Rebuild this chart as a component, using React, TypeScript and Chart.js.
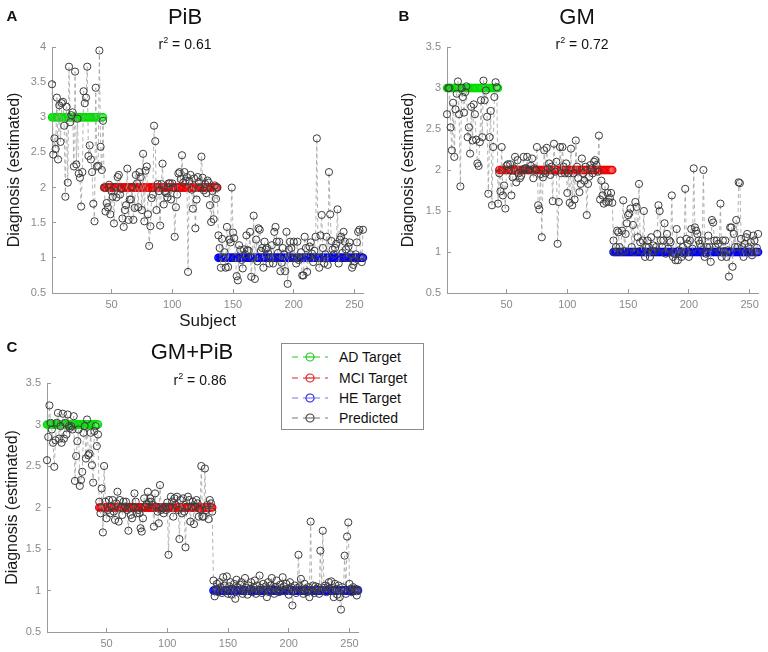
import React, { useEffect, useRef } from "react";
import { Chart, registerables } from "chart.js";

Chart.register(...registerables);

// ---------- data ----------
const seriesNames = ["AD Target", "MCI Target", "HE Target", "Predicted"];
const targetLevels = [3, 2, 1];
const xTickValues = [50, 100, 150, 200, 250];
const yTicksA = [0.5, 1, 1.5, 2, 2.5, 3, 3.5, 4];
const yTicksBC = [0.5, 1, 1.5, 2, 2.5, 3, 3.5];

// Panel A: PiB
const pibAD = [3.47, 2.47, 2.7, 2.55, 3.28, 2.4, 3.17, 2.65, 3.2, 3.22, 2.88, 1.87, 3.15, 2.07, 3.72, 2.93, 3.03, 3.07, 2.3, 3.65, 2.33, 2.98, 2.2, 2.14, 1.73, 2.22, 3.37, 3.2, 3.28, 3.72, 2.45, 2.6, 2.4, 2.22, 1.77, 1.52, 3.42, 2.3, 2.31, 3.95, 2.58, 2.25, 2.95];
const pibMCI = [2.0, 1.66, 1.78, 1.72, 2.04, 1.62, 1.95, 1.87, 1.49, 2.01, 1.86, 2.15, 2.18, 1.9, 1.98, 1.56, 1.44, 1.68, 1.75, 2.27, 1.54, 1.83, 1.83, 2.01, 1.54, 1.71, 2.18, 2.06, 1.72, 2.22, 2.15, 1.68, 2.48, 1.52, 2.24, 2.3, 1.62, 1.17, 1.45, 1.85, 1.9, 2.88, 2.66, 1.68, 2.05, 1.95, 1.46, 2.05, 2.34, 1.76, 1.94, 1.92, 1.86, 2.06, 2.06, 1.83, 2.06, 2.0, 1.3, 1.72, 1.9, 2.2, 2.22, 2.12, 2.46, 2.07, 2.22, 2.1, 2.15, 0.8, 2.09, 2.18, 1.97, 1.7, 2.13, 1.42, 1.83, 2.15, 2.08, 2.0, 2.44, 2.14, 1.96, 2.05, 1.92, 2.1, 2.07, 1.75, 1.51, 1.95, 1.55, 2.03, 1.84, 2.0];
const pibHE = [1.32, 1.14, 0.86, 1.27, 1.0, 1.08, 0.86, 1.44, 0.87, 1.26, 1.22, 2.0, 1.36, 1.28, 1.0, 0.74, 0.68, 1.18, 1.11, 0.97, 0.85, 1.12, 1.05, 1.32, 1.11, 1.1, 1.37, 0.73, 1.0, 1.6, 0.7, 1.26, 0.95, 1.42, 1.4, 1.1, 1.14, 0.86, 1.23, 1.12, 1.14, 1.06, 0.92, 1.0, 1.18, 0.92, 1.37, 1.44, 1.23, 1.07, 1.23, 0.81, 0.93, 1.14, 1.05, 0.81, 1.37, 0.63, 1.12, 1.23, 1.14, 1.0, 1.23, 1.0, 0.92, 1.23, 0.97, 1.0, 1.08, 0.75, 0.75, 1.3, 1.14, 0.8, 1.02, 1.16, 1.22, 1.06, 0.94, 1.1, 1.3, 2.7, 1.0, 0.86, 1.32, 1.61, 1.14, 0.92, 1.05, 1.3, 0.9, 2.22, 1.62, 1.24, 1.12, 1.05, 1.14, 1.2, 1.69, 0.92, 1.26, 1.3, 1.07, 1.37, 1.23, 1.12, 1.0, 1.16, 1.22, 1.05, 0.86, 0.9, 0.95, 1.05, 1.22, 1.37, 1.4, 1.02, 0.94, 1.4];

// Panel B: GM
const gmAD = [2.68, 3.0, 3.0, 2.52, 2.24, 2.82, 2.16, 2.74, 2.93, 3.08, 2.68, 1.8, 3.0, 2.89, 2.7, 2.95, 3.02, 2.4, 2.52, 2.2, 2.77, 2.36, 2.8, 2.68, 2.37, 2.08, 2.05, 2.34, 2.85, 2.4, 3.09, 2.85, 2.97, 2.65, 1.71, 2.4, 2.72, 1.57, 2.28, 2.89, 3.07, 3.01, 1.59];
const gmMCI = [1.96, 1.74, 2.28, 1.69, 1.81, 1.53, 2.05, 2.07, 2.0, 2.07, 1.69, 1.91, 2.02, 2.16, 1.85, 2.12, 1.96, 1.9, 1.93, 2.0, 2.16, 2.02, 2.02, 2.16, 2.0, 2.0, 2.05, 2.14, 1.9, 2.02, 2.0, 2.28, 1.57, 1.52, 1.95, 1.18, 1.91, 2.24, 1.96, 2.27, 2.02, 2.08, 1.94, 2.04, 1.62, 2.32, 1.98, 2.1, 1.1, 1.61, 2.28, 1.96, 2.28, 2.04, 1.96, 2.08, 1.72, 1.96, 1.6, 2.26, 1.57, 1.96, 1.64, 2.36, 2.04, 1.9, 1.73, 1.83, 2.14, 1.96, 1.87, 2.04, 1.45, 1.83, 1.92, 2.06, 2.02, 1.96, 2.1, 2.12, 2.06, 1.98, 2.42, 1.64, 1.87, 1.69, 1.59, 1.8, 1.61, 1.72, 1.61, 1.66, 1.72, 1.6];
const gmHE = [1.14, 1.0, 1.06, 1.26, 1.24, 1.06, 1.0, 1.26, 1.63, 1.01, 1.22, 1.35, 1.45, 1.47, 1.53, 1.06, 1.33, 1.0, 1.61, 1.55, 1.18, 1.83, 1.12, 1.02, 1.14, 1.5, 0.94, 1.06, 1.14, 1.06, 0.94, 1.18, 1.01, 1.08, 1.01, 1.06, 1.22, 1.57, 1.5, 1.14, 1.06, 1.14, 1.35, 0.98, 1.22, 1.04, 1.14, 1.12, 1.69, 0.94, 0.98, 0.9, 1.28, 0.9, 1.02, 1.14, 0.94, 1.06, 0.98, 1.77, 1.16, 1.1, 0.94, 1.14, 1.28, 1.04, 2.02, 1.3, 1.26, 1.22, 1.14, 1.1, 1.06, 1.14, 2.0, 0.94, 0.98, 1.06, 1.2, 1.06, 0.88, 1.39, 1.36, 1.14, 1.06, 1.14, 1.1, 1.01, 1.59, 0.94, 1.14, 1.01, 1.14, 0.94, 1.02, 0.7, 1.3, 1.3, 0.82, 1.22, 1.06, 1.39, 1.06, 1.85, 1.84, 1.16, 1.06, 0.94, 1.1, 1.18, 1.22, 1.06, 1.0, 1.12, 0.96, 1.2, 1.14, 1.0, 1.05, 1.22];

// Panel C: GM+PiB
const gmpibAD = [2.57, 2.85, 3.23, 3.02, 2.94, 2.78, 2.49, 2.81, 3.02, 3.14, 2.83, 2.98, 2.78, 3.13, 2.83, 3.02, 2.88, 3.12, 2.98, 2.96, 2.98, 2.94, 3.1, 2.32, 2.62, 2.8, 2.94, 2.26, 2.33, 2.43, 2.9, 2.98, 2.59, 3.06, 2.63, 2.65, 2.9, 2.51, 2.3, 2.92, 2.98, 2.74, 2.88];
const gmpibMCI = [2.07, 1.93, 2.23, 1.7, 2.5, 2.07, 1.87, 1.97, 2.09, 1.93, 2.01, 2.09, 1.95, 1.85, 2.05, 2.19, 1.83, 2.09, 2.0, 1.91, 2.07, 2.01, 2.07, 1.97, 1.72, 2.01, 1.91, 1.87, 2.01, 2.17, 2.07, 1.93, 1.97, 1.93, 1.75, 1.71, 1.87, 2.11, 2.01, 2.04, 2.19, 2.07, 2.11, 2.07, 2.03, 1.77, 2.17, 2.01, 1.95, 1.81, 2.27, 1.97, 1.99, 1.93, 2.01, 1.97, 2.06, 1.43, 2.01, 2.13, 2.07, 1.89, 2.11, 2.03, 2.13, 1.97, 1.62, 2.09, 1.93, 2.11, 1.95, 1.52, 2.01, 2.13, 2.09, 1.83, 2.01, 2.07, 1.8, 2.01, 2.09, 2.05, 1.89, 1.98, 2.5, 1.89, 1.89, 2.47, 1.97, 2.03, 1.86, 2.09, 2.05, 1.95];
const gmpibHE = [1.12, 0.93, 1.02, 1.08, 0.98, 1.1, 1.04, 0.97, 1.16, 1.06, 1.0, 1.17, 0.96, 1.05, 1.1, 0.95, 1.02, 1.08, 0.9, 1.13, 1.04, 0.99, 1.07, 1.1, 0.96, 1.0, 1.15, 1.03, 0.95, 1.06, 1.02, 1.1, 0.98, 1.04, 1.12, 0.96, 1.06, 1.0, 1.18, 1.03, 0.97, 1.08, 1.01, 1.05, 0.92, 1.1, 0.98, 1.06, 1.15, 1.02, 0.96, 1.04, 1.12, 1.0, 0.98, 1.07, 1.03, 1.16, 1.05, 0.99, 1.08, 1.02, 0.95, 1.1, 1.04, 0.82, 1.0, 1.06, 0.97, 1.03, 1.43, 1.05, 1.14, 1.0, 0.96, 1.08, 1.02, 0.98, 1.04, 0.92, 1.83, 1.0, 1.06, 0.97, 1.05, 1.02, 1.04, 0.96, 1.48, 1.0, 1.72, 1.03, 1.06, 0.98, 1.04, 1.1, 1.02, 1.11, 1.0, 0.92, 1.08, 1.02, 0.95, 1.06, 0.92, 0.77, 1.04, 1.0, 1.42, 0.96, 1.65, 1.82, 1.08, 1.02, 0.98, 1.04, 1.0, 1.02, 0.94, 1.01];

// ---------- styling ----------
const FONT = "'Liberation Sans', Helvetica, Arial, sans-serif";
const targetColors = ["#00dd00", "#ee0000", "#0000ee"];
const targetFills = ["rgba(120,255,120,0.35)", "rgba(255,120,120,0.35)", "rgba(120,120,255,0.35)"];
const legendLineColors = ["#22cc22", "#dd2222", "#7777ee", "#777777"];
const legendMarkerColors = ["#22cc22", "#dd2222", "#2222dd", "#444444"];

type PanelLayout = {
  left: number; top: number; width: number; height: number;
  yWidth: number; xHeight: number; padTop: number; padRight: number;
  yTitlePad: number; xTitle?: string;
};

function buildConfig(ad: number[], mci: number[], he: number[], yMin: number, yMax: number, yTicks: number[], L: PanelLayout) {
  const n = ad.length + mci.length + he.length;
  const all = [...ad, ...mci, ...he];
  const predicted = all.map((y, i) => ({ x: i + 1, y }));
  const starts = [0, ad.length, ad.length + mci.length];
  const groups = [ad, mci, he];
  const targetSets = groups.map((g, gi) => ({
    label: seriesNames[gi],
    data: g.map((_, i) => ({ x: starts[gi] + i + 1, y: targetLevels[gi] })),
    borderColor: targetColors[gi],
    borderWidth: 1,
    borderDash: [4, 3],
    pointRadius: 3.6,
    pointBorderWidth: 1.3,
    pointBorderColor: targetColors[gi],
    pointBackgroundColor: targetFills[gi],
    order: 3 - gi,
    clip: false as any,
  }));
  const tickFont = { family: FONT, size: 11 };
  return {
    type: "line" as const,
    data: {
      datasets: [
        {
          label: seriesNames[3],
          data: predicted,
          borderColor: "#a0a0a0",
          borderWidth: 0.8,
          borderDash: [4, 3],
          pointRadius: 3.6,
          pointBorderWidth: 1,
          pointBorderColor: "#3c3c3c",
          pointBackgroundColor: "rgba(255,255,255,0)",
          order: 0,
          clip: false as any,
        },
        ...targetSets,
      ],
    },
    options: {
      animation: false as const,
      responsive: false,
      devicePixelRatio: 1,
      layout: { padding: { top: L.padTop, right: L.padRight, left: 0, bottom: 0 } },
      plugins: { legend: { display: false }, tooltip: { enabled: false }, title: { display: false } },
      elements: { line: { tension: 0 } },
      scales: {
        x: {
          type: "linear" as const,
          min: 1,
          max: n,
          afterBuildTicks: (s: any) => { s.ticks = xTickValues.map((v) => ({ value: v })); },
          afterFit: (s: any) => { s.height = L.xHeight; },
          ticks: { font: tickFont, color: "#8a8a8a", padding: 9, maxRotation: 0, autoSkip: false, callback: (v: any) => String(v) },
          grid: { drawOnChartArea: false, drawTicks: true, tickLength: -4, color: "#9a9a9a" },
          border: { display: true, color: "#9a9a9a", width: 1 },
          title: L.xTitle
            ? { display: true, text: L.xTitle, color: "#1a1a1a", font: { family: FONT, size: 17 }, padding: { top: 0, bottom: 4 } }
            : { display: false },
        },
        y: {
          type: "linear" as const,
          min: yMin,
          max: yMax,
          afterBuildTicks: (s: any) => { s.ticks = yTicks.map((v) => ({ value: v })); },
          afterFit: (s: any) => { s.width = L.yWidth; },
          ticks: { font: tickFont, color: "#8a8a8a", padding: 10, autoSkip: false, callback: (v: any) => String(v) },
          grid: { drawOnChartArea: false, drawTicks: true, tickLength: -4, color: "#9a9a9a" },
          border: { display: true, color: "#9a9a9a", width: 1 },
          title: { display: true, text: "Diagnosis (estimated)", color: "#1a1a1a", font: { family: FONT, size: 16 }, padding: { top: L.yTitlePad, bottom: 0 } },
        },
      },
    },
  };
}

function Panel(props: { ad: number[]; mci: number[]; he: number[]; yMin: number; yMax: number; yTicks: number[]; L: PanelLayout }) {
  const ref = useRef<HTMLCanvasElement | null>(null);
  useEffect(() => {
    if (!ref.current) return;
    const cfg: any = buildConfig(props.ad, props.mci, props.he, props.yMin, props.yMax, props.yTicks, props.L);
    const chart = new Chart(ref.current, cfg);
    return () => chart.destroy();
  }, []);
  const L = props.L;
  return (
    <canvas
      ref={ref}
      width={L.width}
      height={L.height}
      style={{ position: "absolute", left: L.left, top: L.top, width: L.width, height: L.height, display: "block" }}
    />
  );
}

function Label(props: { x: number; y: number; size: number; bold?: boolean; children: React.ReactNode }) {
  return (
    <div
      style={{
        position: "absolute",
        left: props.x,
        top: props.y,
        transform: "translate(-50%, -50%)",
        fontFamily: FONT,
        fontSize: props.size,
        fontWeight: props.bold ? "bold" : "normal",
        lineHeight: 1,
        whiteSpace: "nowrap",
        color: "#111",
      }}
    >
      {props.children}
    </div>
  );
}

function R2(props: { x: number; y: number; value: string }) {
  return (
    <Label x={props.x} y={props.y} size={14}>
      r<sup style={{ fontSize: 9, verticalAlign: "6px", lineHeight: 0 }}>2</sup> = {props.value}
    </Label>
  );
}

function Legend() {
  const rows = [13, 33.5, 54, 74];
  return (
    <div
      style={{
        position: "absolute",
        left: 281,
        top: 343,
        width: 143,
        height: 87,
        boxSizing: "border-box",
        border: "1px solid #8c8c8c",
        background: "#fff",
        zIndex: 5,
      }}
    >
      {seriesNames.map((name, i) => (
        <div key={name} style={{ position: "absolute", left: 0, top: rows[i] - 10, height: 20, width: 141 }}>
          <svg width={46} height={20} style={{ position: "absolute", left: 0, top: 0 }}>
            <line x1={10} y1={10} x2={46} y2={10} stroke={legendLineColors[i]} strokeWidth={1.2} strokeDasharray="6,5" />
            <circle cx={28} cy={10} r={4} fill="#fff" stroke={legendMarkerColors[i]} strokeWidth={1.2} />
            <line x1={24} y1={10} x2={32} y2={10} stroke={legendLineColors[i]} strokeWidth={1.2} />
          </svg>
          <div style={{ position: "absolute", left: 57, top: 2, fontFamily: FONT, fontSize: 14, lineHeight: "16px", color: "#111", whiteSpace: "nowrap" }}>
            {name}
          </div>
        </div>
      ))}
    </div>
  );
}

const layoutA: PanelLayout = { left: 0, top: 0, width: 380, height: 336, yWidth: 52, xHeight: 43, padTop: 47, padRight: 17, yTitlePad: 5, xTitle: "Subject" };
const layoutB: PanelLayout = { left: 395, top: 0, width: 373, height: 315, yWidth: 52, xHeight: 22, padTop: 47, padRight: 8, yTitlePad: 4 };
const layoutC: PanelLayout = { left: 0, top: 340, width: 380, height: 312, yWidth: 47, xHeight: 20, padTop: 43, padRight: 22, yTitlePad: 2.5 };

export default function App() {
  useEffect(() => {
    document.body.style.margin = "0";
  }, []);
  return (
    <div style={{ position: "absolute", left: 0, top: 0, width: 768, height: 652, background: "#fff", overflow: "hidden" }}>
      <Panel ad={pibAD} mci={pibMCI} he={pibHE} yMin={0.5} yMax={4} yTicks={yTicksA} L={layoutA} />
      <Panel ad={gmAD} mci={gmMCI} he={gmHE} yMin={0.5} yMax={3.5} yTicks={yTicksBC} L={layoutB} />
      <Panel ad={gmpibAD} mci={gmpibMCI} he={gmpibHE} yMin={0.5} yMax={3.5} yTicks={yTicksBC} L={layoutC} />

      <Label x={12} y={15} size={15} bold>A</Label>
      <Label x={404} y={15} size={15} bold>B</Label>
      <Label x={12} y={346} size={15} bold>C</Label>

      <Label x={185} y={17} size={22}>PiB</Label>
      <Label x={577} y={17} size={22}>GM</Label>
      <Label x={192} y={352} size={22}>GM+PiB</Label>

      <R2 x={185} y={44} value="0.61" />
      <R2 x={582} y={44} value="0.72" />
      <R2 x={200} y={380} value="0.86" />

      <Legend />
    </div>
  );
}
